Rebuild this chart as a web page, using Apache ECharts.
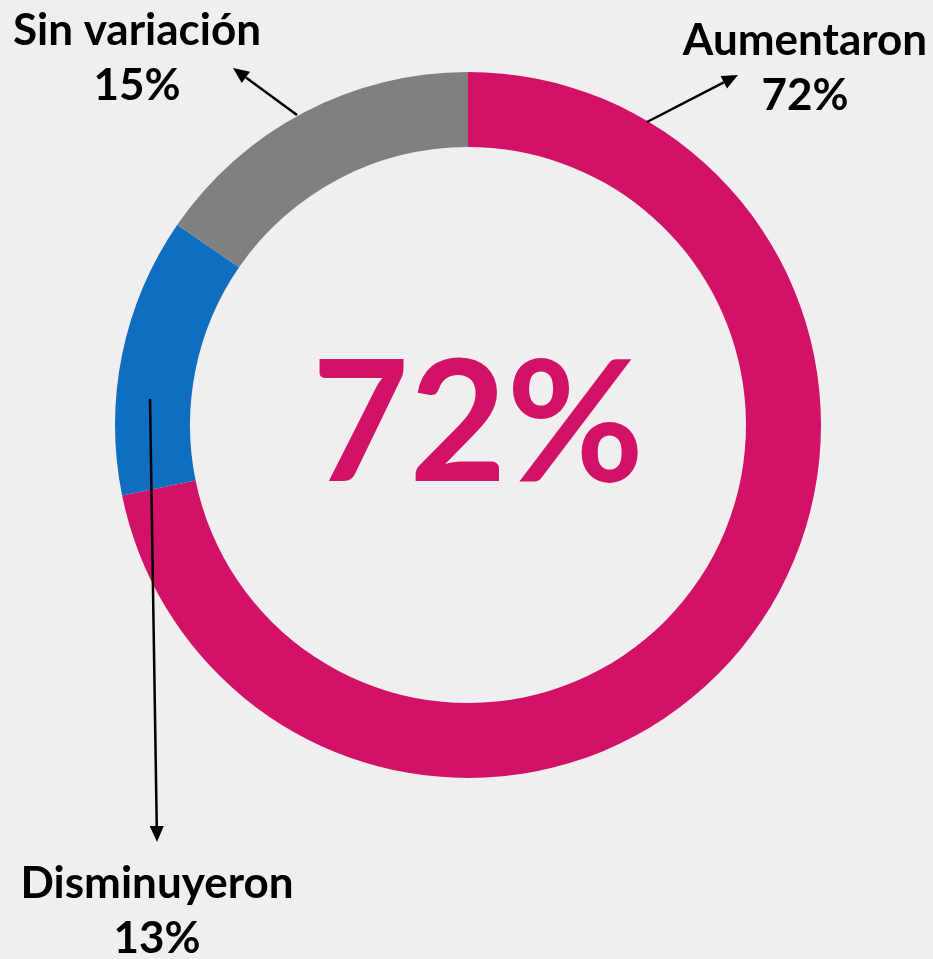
<!DOCTYPE html>
<html>
<head>
<meta charset="utf-8">
<script src="https://cdn.jsdelivr.net/npm/echarts@6/dist/echarts.min.js"></script>
<style>
  html, body { margin: 0; padding: 0; background: #F0EEEF; }
  #chart { width: 933px; height: 959px; }
</style>
</head>
<body>
<div id="chart"></div>
<script>
// data
const categories = ['Aumentaron', 'Disminuyeron', 'Sin variación'];
const shares = [71.8, 12.8, 15.4];
const colors = ['#D11267', '#106EC0', '#808080'];
const highlightIndex = 0;

// where each label sits and where its arrow goes (annotation layout)
const labelPos = [[805, 68], [157, 911], [137, 58]];
const arrows = [
  [[647, 122], [738, 75]],
  [[150, 399], [157, 842]],
  [[297, 115], [233, 68]],
];

const arrowGraphic = ([[x1, y1], [x2, y2]]) => {
  const ang = Math.atan2(y2 - y1, x2 - x1);
  const len = 16, half = 7;
  const bx = x2 - len * Math.cos(ang), by = y2 - len * Math.sin(ang);
  const px = -Math.sin(ang) * half, py = Math.cos(ang) * half;
  return [
    { type: 'line', z: 10, shape: { x1, y1, x2: bx, y2: by }, style: { stroke: '#000', lineWidth: 2.5 } },
    { type: 'polygon', z: 10, shape: { points: [[x2, y2], [bx + px, by + py], [bx - px, by - py]] }, style: { fill: '#000' } },
  ];
};

const chart = echarts.init(document.getElementById('chart'));
chart.setOption({
  backgroundColor: '#F0EEEF',
  animation: false,
  color: colors,
  graphic: [
    {
      type: 'text',
      z: 10,
      x: 478, y: 427,
      style: {
        text: Math.round(shares[highlightIndex]) + '%',
        fill: colors[highlightIndex],
        font: 'bold 168px Lato',
        align: 'center',
        verticalAlign: 'middle',
      },
    },
    ...arrows.flatMap(arrowGraphic),
  ],
  series: [
    {
      type: 'pie',
      center: [468, 425],
      radius: [278, 353],
      startAngle: 90,
      clockwise: true,
      avoidLabelOverlap: false,
      emphasis: { disabled: true },
      label: {
        show: true,
        formatter: (p) => p.name + '\n' + Math.round(p.value) + '%',
        fontFamily: 'Lato',
        fontWeight: 'bold',
        fontSize: 44,
        lineHeight: 55,
        color: '#000',
        align: 'center',
      },
      labelLine: { show: false },
      labelLayout: (p) => ({
        x: labelPos[p.dataIndex][0],
        y: labelPos[p.dataIndex][1],
        align: 'center',
        verticalAlign: 'middle',
      }),
      data: categories.map((name, i) => ({ name, value: shares[i] })),
    },
  ],
});
</script>
</body>
</html>
